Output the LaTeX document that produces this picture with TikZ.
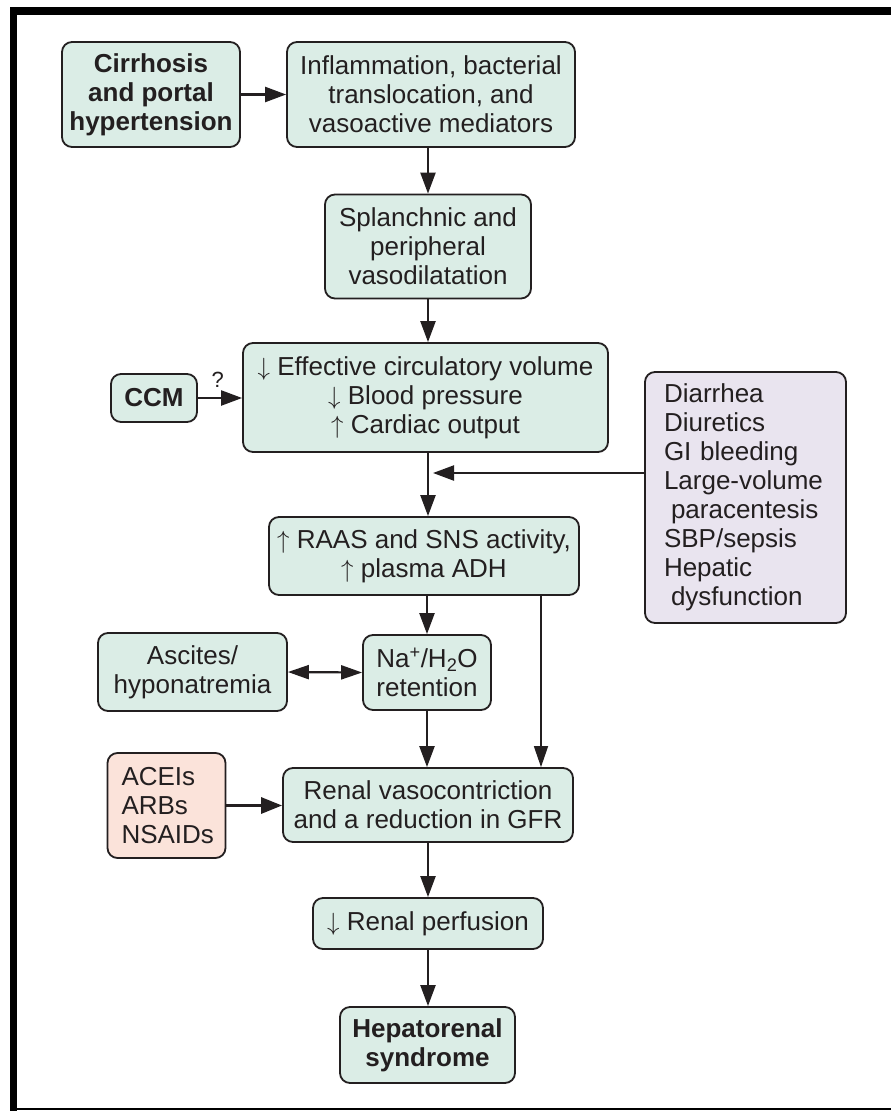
\documentclass[tikz,border=0pt]{standalone}
\usepackage{fontspec}
\setmainfont{Liberation Sans}
\usetikzlibrary{arrows.meta}
\definecolor{ink}{HTML}{231F20}
\definecolor{mint}{HTML}{DBEDE6}
\definecolor{lilac}{HTML}{E9E4EF}
\definecolor{blush}{HTML}{FBE3DA}
\begin{document}
\begin{tikzpicture}[x=1pt,y=-1pt,
  box/.style={draw=ink, line width=1.8pt, rounded corners=10pt, fill=mint,
    inner sep=0pt, align=center, text=ink,
    font=\fontsize{26}{29}\selectfont},
  flow/.style={draw=ink, line width=2.2pt, -{Triangle[length=21pt,width=15pt]}},
  thinflow/.style={draw=ink, line width=1.6pt, -{Triangle[length=21pt,width=14pt]}},
  boldflow/.style={draw=ink, line width=3pt, -{Triangle[length=21pt,width=16pt]}},
  twoway/.style={draw=ink, line width=2.2pt, {Triangle[length=21pt,width=14pt]}-{Triangle[length=21pt,width=14pt]}}]

% canvas and frame
\useasboundingbox (0,0) rectangle (891,1111);
\fill[white] (0,0) rectangle (891,1111);
\fill[black] (10,7) rectangle (891,15);
\fill[black] (10,7) rectangle (17,1111);
\fill[black] (17,1108) rectangle (891,1110);

% boxes
\node[box, minimum width=178, minimum height=105] (cirr) at (151,94.5)
  {\bfseries Cirrhosis\\\bfseries and portal\\\bfseries hypertension};
\node[box, minimum width=288, minimum height=105] (infl) at (431,94.5)
  {Inflammation, bacterial\\translocation, and\\vasoactive mediators};
\node[box, minimum width=206, minimum height=104] (splan) at (428,246.5)
  {Splanchnic and\\peripheral\\vasodilatation};
\node[box, minimum width=365, minimum height=109] (eff) at (425.5,397.5)
  {$\downarrow$ Effective circulatory volume\\$\downarrow$ Blood pressure\\$\uparrow$ Cardiac output};
\node[box, minimum width=86, minimum height=48] (ccm) at (154,398) {\bfseries CCM};
\node[box, fill=lilac, minimum height=251, text width=163pt, inner xsep=19pt,
  align=left] (diar) at (745.5,497.5)
  {Diarrhea\\Diuretics\\GI bleeding\\Large-volume\\\hspace*{7pt}paracentesis\\SBP/sepsis\\Hepatic\\\hspace*{7pt}dysfunction};
\node[box, minimum width=310, minimum height=78] (raas) at (424,556)
  {$\uparrow$ RAAS and SNS activity,\\$\uparrow$ plasma ADH};
\node[box, minimum width=128, minimum height=75] (na) at (427,672.5)
  {Na\textsuperscript{+}/H\textsubscript{2}O\\retention};
\node[box, minimum width=189, minimum height=78] (asc) at (192.5,672)
  {Ascites/\\hyponatremia};
\node[box, minimum width=290, minimum height=74] (renal) at (428,805)
  {Renal vasocontriction\\and a reduction in GFR};
\node[box, fill=blush, minimum height=105, text width=90pt, inner xsep=14pt,
  align=left] (acei) at (166.5,805.5) {ACEIs\\ARBs\\NSAIDs};
\node[box, minimum width=230, minimum height=51] (perf) at (428,923.5)
  {$\downarrow$ Renal perfusion};
\node[box, minimum width=175, minimum height=76] (hrs) at (427.5,1045)
  {\bfseries Hepatorenal\\\bfseries syndrome};

% helper points
\coordinate (join) at (428,473);
\coordinate (side) at (541,0);

% connectors
\path[flow] (cirr.east) -- (infl.west);
\path[flow] (splan.north |- infl.south) -- (splan.north);
\path[flow] (splan.south) -- (eff.north -| splan.south);
\path[flow] (ccm.east) -- (ccm.east -| eff.west)
  node[pos=0.45, above=6pt, text=ink, font=\fontsize{22}{24}\selectfont] (q) {?};
\path[flow] (eff.south -| splan.south) -- (raas.north -| splan.south);
\path[flow] (diar.west |- join) -- ([xshift=5pt]join);
\path[flow] (raas.south -| na.north) -- (na.north);
\path[thinflow] (raas.south -| side) -- (renal.north -| side);
\path[flow] (na.south) -- (renal.north -| na.south);
\path[twoway] (asc.east) -- (na.west);
\path[boldflow] (acei.east) -- (acei.east -| renal.west);
\path[flow] (renal.south -| perf.north) -- (perf.north);
\path[flow] (perf.south) -- (hrs.north -| perf.south);
\end{tikzpicture}
\end{document}
